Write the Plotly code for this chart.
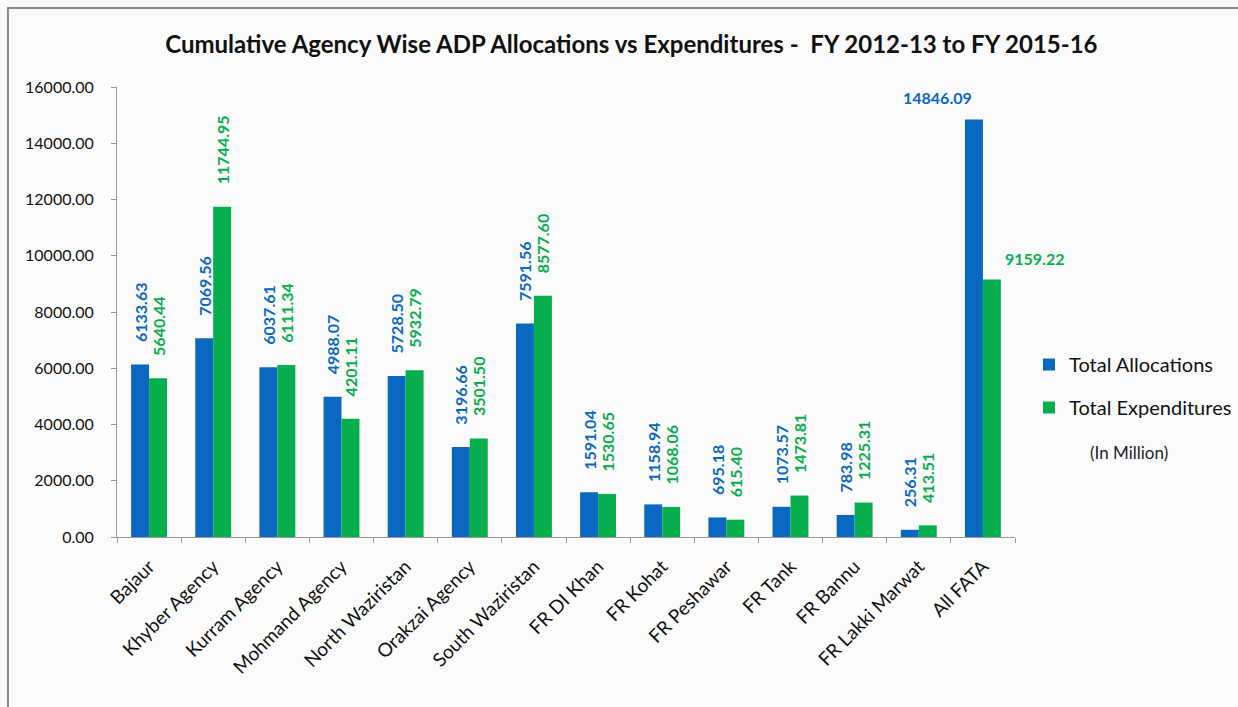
import plotly.graph_objects as go

# Agency-wise cumulative ADP figures, FY 2012-13 to FY 2015-16 (PKR million)
agencies = ["Bajaur", "Khyber Agency", "Kurram Agency", "Mohmand Agency",
            "North Waziristan", "Orakzai Agency", "South Waziristan",
            "FR DI Khan", "FR Kohat", "FR Peshawar", "FR Tank", "FR Bannu",
            "FR Lakki Marwat", "All FATA"]
allocations = [6133.63, 7069.56, 6037.61, 4988.07, 5728.50, 3196.66, 7591.56,
               1591.04, 1158.94, 695.18, 1073.57, 783.98, 256.31, 14846.09]
expenditures = [5640.44, 11744.95, 6111.34, 4201.11, 5932.79, 3501.50, 8577.60,
                1530.65, 1068.06, 615.40, 1473.81, 1225.31, 413.51, 9159.22]
y_ticks = [0, 2000, 4000, 6000, 8000, 10000, 12000, 14000, 16000]

BLUE = "#0a68c0"
GREEN = "#06ae4e"
FONT = "Lato, 'Open Sans', sans-serif"
LABEL_SIZE = 16
PAD = "\u00a0" * 5  # lifts the vertical labels a little off the bar tops

# Vertical labels on the agency bars; the FATA total is labelled horizontally
alloc_text = [PAD + f"{v:.2f}" for v in allocations[:-1]] + [""]
exp_text = [PAD + f"{v:.2f}" for v in expenditures[:-1]] + [""]

fig = go.Figure()
fig.add_trace(go.Bar(
    x=agencies, y=allocations, name="Total Allocations",
    marker=dict(color=BLUE, line=dict(width=0)),
    text=alloc_text, textposition="outside", textangle=-90,
    textfont=dict(color=BLUE, size=LABEL_SIZE, family=FONT, weight="bold"),
    constraintext="none", cliponaxis=False, legendgroup="a",
))
fig.add_trace(go.Bar(
    x=agencies, y=expenditures, name="Total Expenditures",
    marker=dict(color=GREEN, line=dict(width=0)),
    text=exp_text, textposition="outside", textangle=-90,
    textfont=dict(color=GREEN, size=LABEL_SIZE, family=FONT, weight="bold"),
    constraintext="none", cliponaxis=False, legendgroup="b",
))

fig.add_annotation(x=agencies[-1], y=allocations[-1], text=f"{allocations[-1]:.2f}",
                   showarrow=False, xanchor="center", yanchor="middle",
                   xshift=-45, yshift=22,
                   font=dict(color=BLUE, size=LABEL_SIZE, family=FONT, weight="bold"))
fig.add_annotation(x=agencies[-1], y=expenditures[-1], text=f"{expenditures[-1]:.2f}",
                   showarrow=False, xanchor="left", yanchor="middle",
                   xshift=20, yshift=21,
                   font=dict(color=GREEN, size=LABEL_SIZE, family=FONT, weight="bold"))
fig.add_annotation(x=1.127, y=0.187, xref="paper", yref="paper",
                   xanchor="center", yanchor="middle",
                   text="(In Million)", showarrow=False,
                   font=dict(size=17, family=FONT, color="#222"))

# Outer chart frame
fig.add_shape(type="rect", xref="paper", yref="paper",
              x0=-0.1214, y0=-0.40, x1=1.32, y1=1.1756,
              line=dict(color="#8a8a8a", width=2), fillcolor="rgba(0,0,0,0)")

fig.update_layout(
    width=1238, height=707,
    margin=dict(l=117, r=223, t=87, b=170),
    paper_bgcolor="#fbfbfb", plot_bgcolor="#fbfbfb",
    font=dict(family=FONT, color="#111"),
    title=dict(text="<b>Cumulative Agency Wise ADP Allocations vs Expenditures -  FY 2012-13 to FY 2015-16</b>",
               x=0.51, xanchor="center", y=0.937, yanchor="middle",
               font=dict(size=24, family=FONT, color="#111")),
    barmode="group", bargap=0.44, bargroupgap=0,
    showlegend=True,
    legend=dict(xref="container", yref="container",
                x=0.8312, xanchor="left", y=0.454, yanchor="middle",
                font=dict(size=20, family=FONT, color="#111"),
                tracegroupgap=14, bgcolor="rgba(0,0,0,0)"),
    xaxis=dict(range=[-0.5, len(agencies) - 0.5], tickangle=-45,
               tickfont=dict(size=19, family=FONT, color="#111"),
               ticklabelstandoff=10,
               showline=True, linecolor="#9a9a9a", linewidth=1,
               ticks="outside", tickson="boundaries", ticklen=5, tickcolor="#9a9a9a",
               showgrid=False),
    yaxis=dict(range=[0, 16000], tickvals=y_ticks,
               ticktext=[f"{v:.2f}" for v in y_ticks],
               tickfont=dict(size=16, family=FONT, color="#111"),
               ticklabelstandoff=14,
               showline=True, linecolor="#9a9a9a", linewidth=1,
               ticks="outside", ticklen=5, tickcolor="#9a9a9a",
               showgrid=False, zeroline=False),
)

fig.write_html("out.html")
